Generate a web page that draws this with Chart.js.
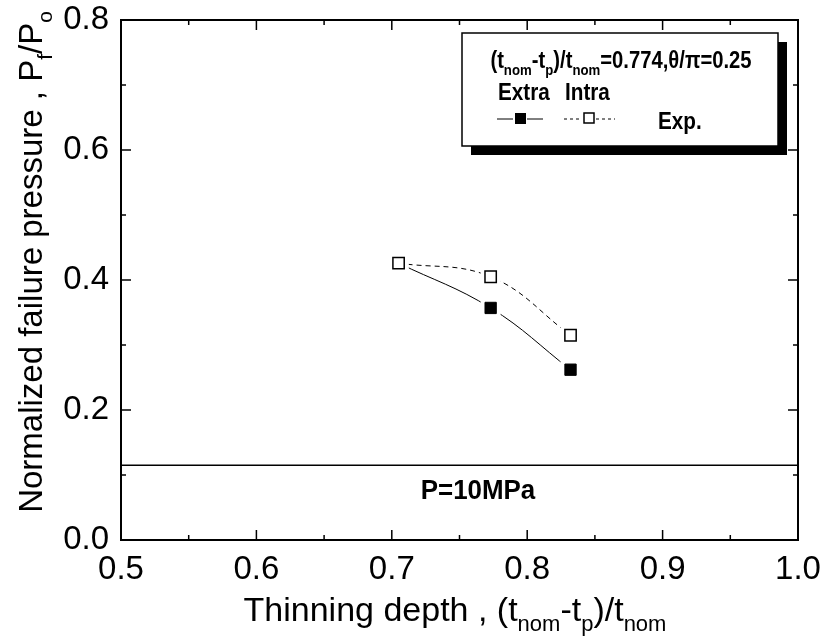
<!DOCTYPE html>
<html>
<head>
<meta charset="utf-8">
<script src="https://cdn.jsdelivr.net/npm/chart.js@4.4.1/dist/chart.umd.min.js"></script>
<style>
  html, body { margin: 0; padding: 0; background: #fff; }
  #wrap { width: 824px; height: 636px; }
</style>
</head>
<body>
<div id="wrap"><canvas id="chart" width="824" height="636"></canvas></div>
<script>
// data
const thinningDepth = [0.705, 0.773, 0.832];
const extraPressure = [0.426, 0.357, 0.262];
const intraPressure = [0.426, 0.405, 0.315];
const refLineX = [0.5, 1.0];
const refLineY = [0.115, 0.115];
const refLabel = "P=10MPa";
const xTickValues = [0.5, 0.6, 0.7, 0.8, 0.9, 1.0];
const yTickValues = [0.0, 0.2, 0.4, 0.6, 0.8];

const FONT = "'Liberation Sans', Arial, sans-serif";

// text pieces: [text, isSubscript]
const xTitle = [["Thinning depth , (t", 0], ["nom", 1], ["-t", 0], ["p", 1], [")/t", 0], ["nom", 1]];
const yTitle = [["Normalized failure pressure , P", 0], ["f", 1], ["/P", 0], ["o", 1]];
const legendTitle = [["(t", 0], ["nom", 1], ["-t", 0], ["p", 1], [")/t", 0], ["nom", 1], ["=0.774,\u03b8/\u03c0=0.25", 0]];

function richWidth(ctx, parts, size, weight) {
  let w = 0;
  parts.forEach(([t, s]) => {
    ctx.font = `${weight} ${s ? Math.round(size * 0.65) : size}px ${FONT}`;
    w += ctx.measureText(t).width;
  });
  return w;
}

// draws text with subscripts, centred on cx, squeezed horizontally by sx
function drawRich(ctx, parts, cx, y, size, weight, sx) {
  const w = richWidth(ctx, parts, size, weight);
  ctx.save();
  ctx.translate(cx, y);
  ctx.scale(sx, 1);
  let x = -w / 2;
  parts.forEach(([t, s]) => {
    ctx.font = `${weight} ${s ? Math.round(size * 0.65) : size}px ${FONT}`;
    ctx.fillText(t, x, s ? size * 0.3 : 0);
    x += ctx.measureText(t).width;
  });
  ctx.restore();
}

function drawSqueezed(ctx, text, x, y, size, sx) {
  ctx.save();
  ctx.translate(x, y);
  ctx.scale(sx, 1);
  ctx.font = `bold ${size}px ${FONT}`;
  ctx.fillText(text, 0, 0);
  ctx.restore();
}

// leave a small white gap between the curves and each marker, like the original plot
const markerGapPlugin = {
  id: "markerGap",
  afterDatasetsDraw(chart) {
    const ctx = chart.ctx;
    ctx.save();
    [1, 0].forEach(di => {
      const meta = chart.getDatasetMeta(di);
      meta.data.forEach(pt => {
        ctx.fillStyle = "#fff";
        ctx.fillRect(pt.x - 10, pt.y - 10, 20, 20);
        pt.draw(ctx, chart.chartArea);
      });
    });
    ctx.restore();
  }
};

const framePlugin = {
  id: "frame",
  afterDraw(chart) {
    const ctx = chart.ctx;
    const a = chart.chartArea;
    const xs = chart.scales.x, ys = chart.scales.y;
    ctx.save();
    ctx.strokeStyle = "#000";
    ctx.fillStyle = "#000";
    ctx.textBaseline = "alphabetic";
    ctx.textAlign = "left";

    // axis box
    ctx.lineWidth = 2;
    ctx.strokeRect(a.left, a.top, a.right - a.left, a.bottom - a.top);

    // inward ticks, mirrored on top and right
    ctx.lineWidth = 1.5;
    ctx.beginPath();
    for (let i = 0; i < xTickValues.length; i++) {
      const px = xs.getPixelForValue(xTickValues[i]);
      ctx.moveTo(px, a.bottom); ctx.lineTo(px, a.bottom - 10);
      ctx.moveTo(px, a.top); ctx.lineTo(px, a.top + 10);
      if (i < xTickValues.length - 1) {
        const mx = xs.getPixelForValue((xTickValues[i] + xTickValues[i + 1]) / 2);
        ctx.moveTo(mx, a.bottom); ctx.lineTo(mx, a.bottom - 5);
        ctx.moveTo(mx, a.top); ctx.lineTo(mx, a.top + 5);
      }
    }
    for (let i = 0; i < yTickValues.length; i++) {
      const py = ys.getPixelForValue(yTickValues[i]);
      ctx.moveTo(a.left, py); ctx.lineTo(a.left + 10, py);
      ctx.moveTo(a.right, py); ctx.lineTo(a.right - 10, py);
      if (i < yTickValues.length - 1) {
        const my = ys.getPixelForValue((yTickValues[i] + yTickValues[i + 1]) / 2);
        ctx.moveTo(a.left, my); ctx.lineTo(a.left + 5, my);
        ctx.moveTo(a.right, my); ctx.lineTo(a.right - 5, my);
      }
    }
    ctx.stroke();

    // x title
    drawRich(ctx, xTitle, 455, 621, 34, "normal", 1);

    // y title (rotated)
    ctx.save();
    ctx.translate(42, 262);
    ctx.rotate(-Math.PI / 2);
    drawRich(ctx, yTitle, 0, 0, 33, "normal", 1);
    ctx.restore();

    // reference line label
    const ry = ys.getPixelForValue(refLineY[0]);
    ctx.textAlign = "center";
    drawSqueezed(ctx, refLabel, 478, ry + 34, 27, 0.96);
    ctx.textAlign = "left";

    // legend box with drop shadow
    const bx = a.right - 336, by = a.top + 13, bw = 316, bh = 113;
    ctx.fillRect(bx + 9, by + 9, bw, bh);
    ctx.fillStyle = "#fff";
    ctx.fillRect(bx, by, bw, bh);
    ctx.fillStyle = "#000";
    ctx.lineWidth = 1.5;
    ctx.strokeRect(bx, by, bw, bh);

    drawRich(ctx, legendTitle, bx + 159, by + 35, 23, "bold", 0.88);
    drawSqueezed(ctx, "Extra", bx + 36, by + 67, 23, 0.9);
    drawSqueezed(ctx, "Intra", bx + 103, by + 67, 23, 0.9);
    drawSqueezed(ctx, "Exp.", bx + 196, by + 96, 23, 0.9);

    const ly = by + 86;
    ctx.lineWidth = 1;
    ctx.beginPath();
    ctx.moveTo(bx + 35, ly); ctx.lineTo(bx + 51, ly);
    ctx.moveTo(bx + 65, ly); ctx.lineTo(bx + 81, ly);
    ctx.stroke();
    ctx.fillRect(bx + 53, ly - 6, 11, 11);
    ctx.setLineDash([3, 3]);
    ctx.beginPath();
    ctx.moveTo(bx + 102, ly); ctx.lineTo(bx + 119, ly);
    ctx.moveTo(bx + 134, ly); ctx.lineTo(bx + 153, ly);
    ctx.stroke();
    ctx.setLineDash([]);
    ctx.lineWidth = 1.5;
    ctx.strokeRect(bx + 122, ly - 6, 10, 10);

    ctx.restore();
  }
};

const toPoints = (xs, ys) => xs.map((x, i) => ({ x: x, y: ys[i] }));

new Chart(document.getElementById("chart"), {
  type: "line",
  data: {
    datasets: [
      {
        label: "Intra",
        data: toPoints(thinningDepth, intraPressure),
        borderColor: "#000",
        borderWidth: 1,
        borderDash: [5, 4],
        tension: 0.4,
        pointStyle: "rect",
        pointRadius: 8,
        pointBorderWidth: 1.5,
        pointBackgroundColor: "#fff",
        pointBorderColor: "#000",
        order: 0
      },
      {
        label: "Extra",
        data: toPoints(thinningDepth, extraPressure),
        borderColor: "#000",
        borderWidth: 1,
        tension: 0.4,
        pointStyle: "rect",
        pointRadius: 8,
        pointBorderWidth: 1,
        pointBackgroundColor: "#000",
        pointBorderColor: "#000",
        order: 1
      },
      {
        label: refLabel,
        data: toPoints(refLineX, refLineY),
        borderColor: "#000",
        borderWidth: 1.5,
        pointRadius: 0,
        order: 2
      }
    ]
  },
  options: {
    responsive: false,
    animation: false,
    layout: { padding: { top: 20, right: 26, left: 0, bottom: 0 } },
    plugins: { legend: { display: false }, tooltip: { enabled: false } },
    scales: {
      x: {
        type: "linear",
        min: 0.5,
        max: 1.0,
        afterBuildTicks: s => { s.ticks = xTickValues.map(v => ({ value: v })); },
        afterFit: s => { s.height = 96; s.paddingLeft = 0; s.paddingRight = 0; },
        grid: { display: false, drawTicks: false },
        border: { display: false },
        ticks: {
          color: "#000",
          padding: 10,
          maxRotation: 0,
          font: { family: FONT, size: 33 },
          callback: v => Number(v).toFixed(1)
        }
      },
      y: {
        type: "linear",
        min: 0,
        max: 0.8,
        afterBuildTicks: s => { s.ticks = yTickValues.map(v => ({ value: v })); },
        afterFit: s => { s.width = 121; s.paddingTop = 0; s.paddingBottom = 0; },
        grid: { display: false, drawTicks: false },
        border: { display: false },
        ticks: {
          color: "#000",
          padding: 12,
          font: { family: FONT, size: 33 },
          callback: v => Number(v).toFixed(1)
        }
      }
    }
  },
  plugins: [markerGapPlugin, framePlugin]
});
</script>
</body>
</html>
